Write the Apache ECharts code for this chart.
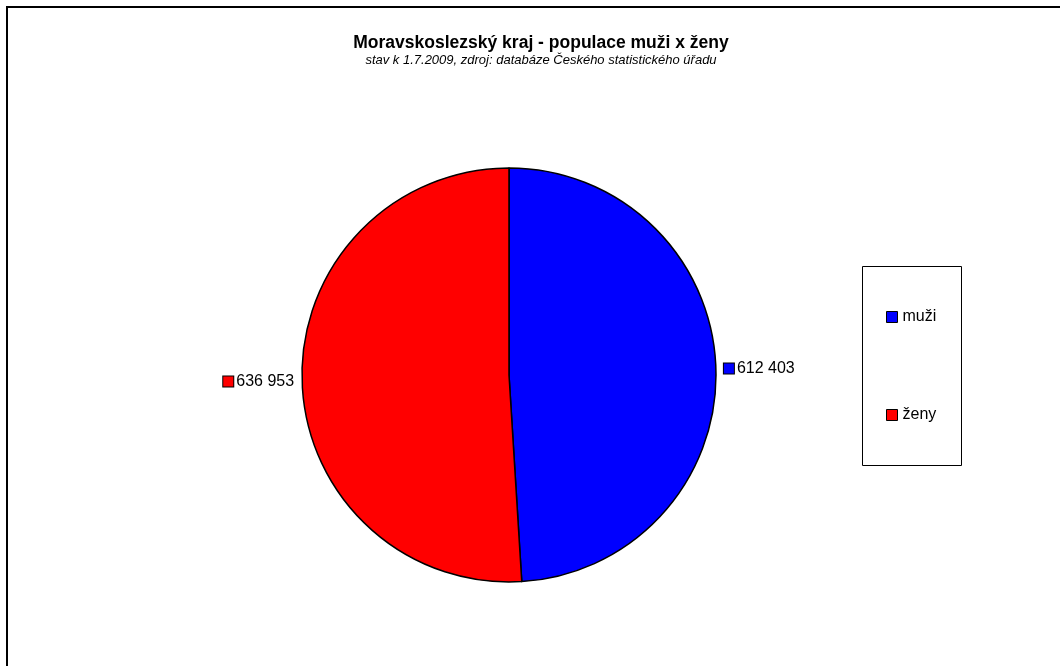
<!DOCTYPE html>
<html>
<head>
<meta charset="utf-8">
<script src="https://cdn.jsdelivr.net/npm/echarts@6/dist/echarts.min.js"></script>
<style>
  html, body { margin: 0; padding: 0; background: #fff; }
  #chart { width: 1060px; height: 666px; }
</style>
</head>
<body>
<div id="chart"></div>
<script>
// Population of the Moravian-Silesian Region by sex (1.7.2009)
const categories = ['muži', 'ženy'];
const values = [612403, 636953];
const colors = ['#0000ff', '#ff0000'];

const titleText = 'Moravskoslezský kraj - populace muži x ženy';
const subtitleText = 'stav k 1.7.2009, zdroj: databáze Českého statistického úřadu';

const FONT = '"Liberation Sans", Arial, sans-serif';

function fmt(v) {
  return String(v).replace(/\B(?=(\d{3})+(?!\d))/g, ' ');
}

const chart = echarts.init(document.getElementById('chart'), null, { renderer: 'canvas' });

const data = categories.map((name, i) => ({
  name: name,
  value: values[i],
  itemStyle: { color: colors[i] },
  label: {
    rich: {
      sq: {
        width: 10, height: 10,
        backgroundColor: colors[i],
        borderColor: '#000', borderWidth: 1
      },
      v: { fontSize: 16, fontFamily: FONT, color: '#000', padding: [0, 0, 0, 3] }
    }
  }
}));

chart.setOption({
  animation: false,
  backgroundColor: '#fff',
  title: {
    text: titleText,
    subtext: subtitleText,
    left: 536,
    top: 29,
    textAlign: 'center',
    itemGap: 2,
    textStyle: { fontFamily: FONT, fontSize: 17.5, fontWeight: 'bold', color: '#000' },
    subtextStyle: { fontFamily: FONT, fontSize: 13, fontStyle: 'italic', color: '#000' }
  },
  graphic: [
    {
      type: 'rect', silent: true,
      shape: { x: 7, y: 7, width: 1200, height: 800 },
      style: { fill: 'none', stroke: '#000', lineWidth: 2 }
    },
    {
      type: 'rect', silent: true,
      shape: { x: 862.5, y: 266.5, width: 99, height: 199 },
      style: { fill: 'none', stroke: '#000', lineWidth: 1 }
    }
  ],
  legend: {
    orient: 'vertical',
    left: 886,
    top: 308,
    padding: 0,
    itemGap: 80,
    itemWidth: 11,
    itemHeight: 11,
    icon: 'rect',
    itemStyle: { borderColor: '#000', borderWidth: 1 },
    textStyle: { fontFamily: FONT, fontSize: 16, color: '#000', lineHeight: 18, padding: [0, 0, 0, 0] },
    data: categories
  },
  series: [{
    type: 'pie',
    center: [509, 375],
    radius: [0, 207],
    startAngle: 90,
    clockwise: true,
    itemStyle: { borderColor: '#000', borderWidth: 1.5 },
    label: {
      show: true,
      position: 'outside',
      alignTo: 'none',
      formatter: p => '{sq|}{v|' + fmt(p.value) + '}',
      distanceToLabelLine: 5
    },
    labelLine: { show: false, length: 3, length2: 0 },
    emphasis: { disabled: true },
    data: data
  }]
});
</script>
</body>
</html>
